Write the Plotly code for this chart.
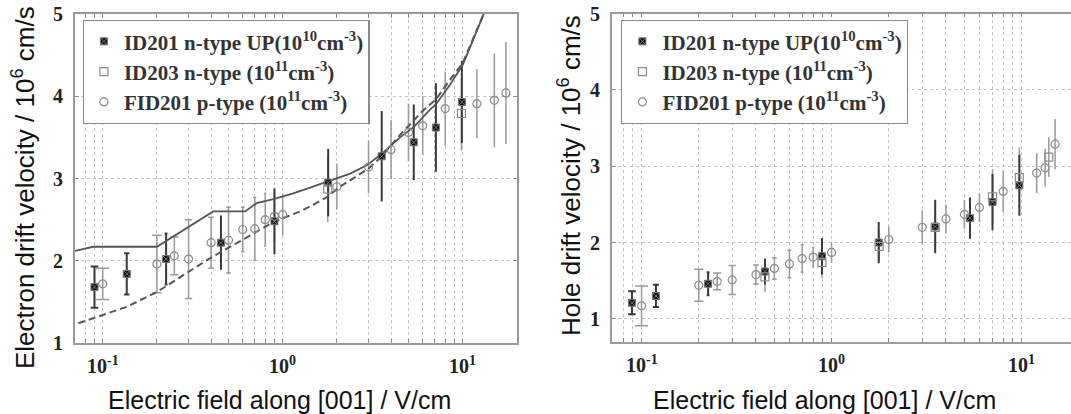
import math
import plotly.graph_objects as go

# ---------------- data: electron drift velocity (left panel) ----------------
e_id201_x = [0.09, 0.136, 0.225, 0.454, 0.90, 1.79, 3.55, 5.35, 7.1, 9.9]
e_id201_y = [1.68, 1.84, 2.02, 2.22, 2.48, 2.95, 3.27, 3.44, 3.62, 3.93]
e_id201_err = [0.25, 0.25, 0.31, 0.33, 0.40, 0.41, 0.55, 0.46, 0.54, 0.50]

e_id203_x = [1.78, 9.85]
e_id203_y = [2.87, 3.79]
e_id203_err = [0.40, 0.45]

e_fid201_x = [0.1, 0.2, 0.25, 0.3, 0.4, 0.5, 0.6, 0.7, 0.8, 0.9, 1.0, 2.0, 3.0,
              4.0, 5.0, 6.0, 8.0, 12.0, 15.0, 17.4]
e_fid201_y = [1.72, 1.96, 2.06, 2.02, 2.22, 2.25, 2.38, 2.39, 2.50, 2.54, 2.56,
              2.90, 3.14, 3.35, 3.56, 3.64, 3.85, 3.91, 3.95, 4.04]
e_fid201_err = [0.19, 0.35, 0.23, 0.48, 0.31, 0.40, 0.27, 0.38, 0.32, 0.30, 0.25,
                0.28, 0.32, 0.36, 0.35, 0.36, 0.45, 0.42, 0.57, 0.62]

e_solid_x = [0.07, 0.0887, 0.2, 0.411, 0.618, 0.717, 0.887, 1.146, 1.42, 1.79,
             2.37, 2.93, 3.55, 4.49, 5.38, 6.6, 7.1, 8.5, 10.0, 11.2, 12.8, 13.2]
e_solid_y = [2.12, 2.17, 2.17, 2.60, 2.60, 2.70, 2.75, 2.82, 2.89, 2.97,
             3.06, 3.16, 3.30, 3.50, 3.63, 3.84, 3.90, 4.14, 4.38, 4.64, 4.93, 5.02]

e_dash_x = [0.0732, 0.101, 0.136, 0.2, 0.305, 0.394, 0.604, 0.887, 1.25, 1.42,
            1.75, 2.08, 3.0, 3.55, 4.49, 6.05, 7.1, 8.5, 10.0, 11.2, 12.8, 13.2]
e_dash_y = [1.24, 1.34, 1.44, 1.62, 1.87, 2.03, 2.26, 2.47, 2.60, 2.66,
            2.77, 2.90, 3.12, 3.27, 3.53, 3.83, 3.96, 4.20, 4.40, 4.66, 4.95, 5.02]

# ---------------- data: hole drift velocity (right panel) ----------------
h_id201_x = [0.089, 0.119, 0.224, 0.446, 0.89, 1.77, 3.51, 5.35, 7.03, 9.73]
h_id201_y = [1.21, 1.30, 1.46, 1.62, 1.82, 2.00, 2.21, 2.32, 2.53, 2.75]
h_id201_err = [0.15, 0.145, 0.15, 0.17, 0.24, 0.27, 0.35, 0.27, 0.37, 0.40]

h_id203_x = [0.446, 0.89, 1.78, 3.51, 7.03, 9.73, 13.9]
h_id203_y = [1.55, 1.74, 1.95, 2.20, 2.60, 2.85, 3.12]
h_id203_err = [0.20, 0.20, 0.20, 0.30, 0.36, 0.40, 0.26]

h_fid201_x = [0.1, 0.2, 0.25, 0.3, 0.4, 0.5, 0.6, 0.7, 0.8, 1.0, 2.0, 3.0, 4.0,
              5.0, 6.0, 8.0, 12.0, 13.3, 15.0]
h_fid201_y = [1.17, 1.44, 1.49, 1.51, 1.58, 1.66, 1.72, 1.79, 1.81, 1.87, 2.04,
              2.20, 2.31, 2.37, 2.46, 2.67, 2.91, 2.98, 3.29]
h_fid201_err = [0.26, 0.21, 0.11, 0.19, 0.125, 0.14, 0.18, 0.18, 0.125, 0.13,
                0.17, 0.22, 0.19, 0.19, 0.19, 0.27, 0.26, 0.25, 0.33]

names = ["<b>ID201 n-type UP(10<sup>10</sup>cm<sup>-3</sup>)</b>",
         "<b>ID203 n-type (10<sup>11</sup>cm<sup>-3</sup>)</b>",
         "<b>FID201 p-type (10<sup>11</sup>cm<sup>-3</sup>)</b>"]

x_tickvals = [0.08, 0.09, 0.1, 0.2, 0.3, 0.4, 0.5, 0.6, 0.7, 0.8, 0.9,
              1, 2, 3, 4, 5, 6, 7, 8, 9, 10, 20]
x_labels = {0.1: "10<sup>-1</sup>", 1: "10<sup>0</sup>", 10: "10<sup>1</sup>"}
y_tickvals = [1, 2, 3, 4, 5]

# ---------------- styles ----------------
GRAY = "#8c8c8c"
LINEC = "#555555"
SERIF = "Liberation Serif"
SANS = "Liberation Sans"
W, H = 1071, 414

fig = go.Figure()


def cap(x, base):
    return max(0.0, base - 6.0 * math.log10(x / 0.1))


def add_errbars(xs, ys, errs, color, thick, base, xa, ya):
    for x, y, e in zip(xs, ys, errs):
        fig.add_trace(go.Scatter(
            x=[x], y=[y], mode="markers", xaxis=xa, yaxis=ya,
            marker=dict(size=2, opacity=0),
            error_y=dict(type="data", array=[e], color=color,
                         thickness=thick, width=cap(x, base)),
            showlegend=False, hoverinfo="skip"))


def add_panel(xa, ya, legend, d201, d203, dfid, lines=None):
    add_errbars(*dfid, "#999999", 1.5, 6.5, xa, ya)
    add_errbars(*d203, "#999999", 1.5, 4.0, xa, ya)
    add_errbars(*d201, "#3a3a3a", 2.0, 3.5, xa, ya)
    if lines:
        (sx, sy), (dx, dy) = lines
        fig.add_trace(go.Scatter(x=sx, y=sy, mode="lines", xaxis=xa, yaxis=ya,
                                 line=dict(color=LINEC, width=1.8),
                                 showlegend=False, hoverinfo="skip"))
        fig.add_trace(go.Scatter(x=dx, y=dy, mode="lines", xaxis=xa, yaxis=ya,
                                 line=dict(color=LINEC, width=2, dash="7px,4px"),
                                 showlegend=False, hoverinfo="skip"))
    fig.add_trace(go.Scatter(
        x=d201[0], y=d201[1], mode="markers", xaxis=xa, yaxis=ya, name=names[0],
        legend=legend,
        marker=dict(symbol="square-x", size=7, color="#111111",
                    line=dict(color="#777777", width=1))))
    fig.add_trace(go.Scatter(
        x=d203[0], y=d203[1], mode="markers", xaxis=xa, yaxis=ya, name=names[1],
        legend=legend,
        marker=dict(symbol="square-open", size=8, color=GRAY,
                    line=dict(width=1.2))))
    fig.add_trace(go.Scatter(
        x=dfid[0], y=dfid[1], mode="markers", xaxis=xa, yaxis=ya, name=names[2],
        legend=legend,
        marker=dict(symbol="circle-open", size=8, color=GRAY,
                    line=dict(width=1.2))))


add_panel("x", "y", "legend",
          (e_id201_x, e_id201_y, e_id201_err),
          (e_id203_x, e_id203_y, e_id203_err),
          (e_fid201_x, e_fid201_y, e_fid201_err),
          lines=((e_solid_x, e_solid_y), (e_dash_x, e_dash_y)))
add_panel("x2", "y2", "legend2",
          (h_id201_x, h_id201_y, h_id201_err),
          (h_id203_x, h_id203_y, h_id203_err),
          (h_fid201_x, h_fid201_y, h_fid201_err))

legfont = dict(family=SERIF, size=21, color="#333333")
leg_common = dict(bgcolor="white", bordercolor="#8a8a8a", borderwidth=1.2,
                  font=legfont, xanchor="left", yanchor="top",
                  tracegroupgap=0, itemsizing="trace")

# panel geometry (pixels): left/right edges of plot areas and bottoms
LEFT_X0, RIGHT_X0 = 75, 612.3
LEFT_BOTTOM, RIGHT_BOTTOM = 343, 341.7

tickfont = dict(family=SERIF, size=20, color="#222222")
annotations = [
    dict(text="Electron drift velocity / 10<sup>6</sup> cm/s",
         xref="paper", yref="paper", x=23 / W, y=1 - 188 / H,
         xanchor="center", yanchor="middle", textangle=-90, showarrow=False,
         font=dict(family=SANS, size=26, color="#111111")),
    dict(text="Hole drift velocity / 10<sup>6</sup> cm/s",
         xref="paper", yref="paper", x=569 / W, y=1 - 176 / H,
         xanchor="center", yanchor="middle", textangle=-90, showarrow=False,
         font=dict(family=SANS, size=26, color="#111111")),
    dict(text="Electric field along [001] / V/cm",
         xref="paper", yref="paper", x=279 / W, y=1 - 400 / H,
         xanchor="center", yanchor="middle", showarrow=False,
         font=dict(family=SANS, size=25, color="#111111")),
    dict(text="Electric field along [001] / V/cm",
         xref="paper", yref="paper", x=824 / W, y=1 - 400 / H,
         xanchor="center", yanchor="middle", showarrow=False,
         font=dict(family=SANS, size=25, color="#111111")),
]
# tick labels (placed through the axes' own data coordinates)
for xr, yr, bottom, x0 in (("x", "y", LEFT_BOTTOM, LEFT_X0),
                           ("x2", "y2", RIGHT_BOTTOM, RIGHT_X0)):
    for v, t in x_labels.items():
        annotations.append(dict(
            text="<b>%s</b>" % t, xref=xr, yref="paper", x=math.log10(v),
            y=1 - (bottom + 8) / H, xanchor="center", yanchor="top",
            showarrow=False, font=tickfont))
    for v in y_tickvals:
        annotations.append(dict(
            text="<b>%d</b>" % v, xref="paper", yref=yr, x=(x0 - 10) / W, y=v,
            xanchor="right", yanchor="middle", showarrow=False, font=tickfont))

fig.update_layout(
    width=W, height=H,
    margin=dict(l=0, r=0, t=0, b=0),
    paper_bgcolor="white", plot_bgcolor="white",
    showlegend=True,
    xaxis=dict(domain=[LEFT_X0 / W, 517 / W], range=[-1.154, 1.302],
               anchor="y", mirror="ticks"),
    yaxis=dict(domain=[1 - LEFT_BOTTOM / H, 1 - 14 / H], range=[1, 5],
               anchor="x", mirror="ticks"),
    xaxis2=dict(domain=[RIGHT_X0 / W, 1.0], range=[-1.154, 1.26],
                anchor="y2", mirror="ticks"),
    yaxis2=dict(domain=[1 - RIGHT_BOTTOM / H, 1 - 13.7 / H], range=[0.7, 5],
                anchor="x2", mirror=False),
    legend=dict(leg_common, x=0.0772, y=1 - 20 / H),
    legend2=dict(leg_common, x=0.580, y=1 - 20 / H),
    annotations=annotations,
)

grid = dict(showgrid=True, gridcolor="#c4c4c4", griddash="dot", gridwidth=1)
fig.update_xaxes(
    type="log", tickmode="array", tickvals=x_tickvals, showticklabels=False,
    ticks="inside", ticklen=4, tickcolor="#888888", tickwidth=1,
    showline=True, linecolor="#9a9a9a", linewidth=1.5, zeroline=False, **grid)
fig.update_yaxes(
    tickmode="array", tickvals=y_tickvals, showticklabels=False,
    ticks="inside", ticklen=4, tickcolor="#888888", tickwidth=1,
    showline=True, linecolor="#9a9a9a", linewidth=1.5, zeroline=False, **grid)

fig.write_html("out.html")
